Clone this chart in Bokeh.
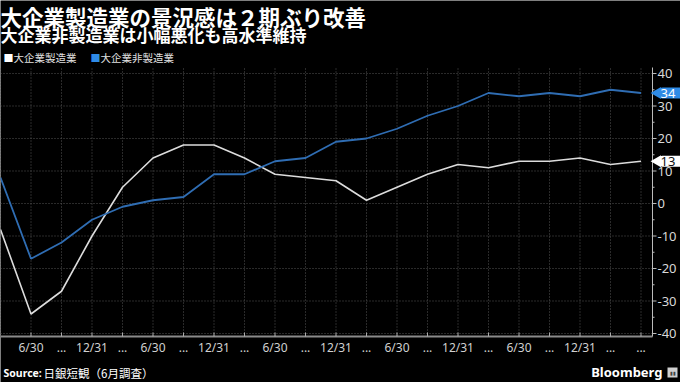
import math
from bokeh.plotting import figure
from bokeh.models import Range1d, Label
from bokeh.embed import file_html
from bokeh.resources import INLINE

# ---- data (quarterly Tankan DI, Mar 2020 - Jun 2025) ----
quarters = list(range(22))
mfg = [-8, -34, -27, -10, 5, 14, 18, 18, 14, 9, 8, 7, 1, 5, 9, 12, 11, 13, 13, 14, 12, 13]
nonmfg = [8, -17, -12, -5, -1, 1, 2, 9, 9, 13, 14, 19, 20, 23, 27, 30, 34, 33, 34, 33, 35, 34]
x_label_ticks = list(range(1, 22))
x_labels = ["6/30", "...", "12/31", "...", "6/30", "...", "12/31", "...", "6/30", "...",
            "12/31", "...", "6/30", "...", "12/31", "...", "6/30", "...", "12/31", "...", "..."]
y_ticks = [-40, -30, -20, -10, 0, 10, 20, 30, 40]
y_minor = [-35, -25, -15, -5, 5, 15, 25, 35]

title = "大企業製造業の景況感は２期ぶり改善"
subtitle = "大企業非製造業は小幅悪化も高水準維持"
series_names = ["大企業製造業", "大企業非製造業"]
source = "日銀短観（6月調査）"

WHITE = "#dcdcdc"
BLUE = "#2f6db3"
BLUE_TAG = "#2f8be6"
GRID = "#555555"
FONT = "Noto Sans CJK JP"

# ---- geometry (pixels) ----
W, H = 680, 382
PX_PER_X = 30.5          # pixels per quarter
PX_PER_Y = 3.25          # pixels per DI point
Y40_PX = 73              # canvas y of +40
PLOT_RIGHT_PX, PLOT_TOP_PX, PLOT_BOTTOM_PX = 652, 67, 336

x_end = W / PX_PER_X
y_top = 40 + Y40_PX / PX_PER_Y
y_bot = y_top - H / PX_PER_Y
xr = PLOT_RIGHT_PX / PX_PER_X                 # plot area right edge (data)
yt = y_top - PLOT_TOP_PX / PX_PER_Y           # plot area top (data)
yb = y_top - PLOT_BOTTOM_PX / PX_PER_Y        # plot area bottom (data)

p = figure(width=W, height=H, output_backend="svg", toolbar_location=None,
           x_range=Range1d(0, x_end), y_range=Range1d(y_bot, y_top),
           x_axis_location=None, y_axis_location=None, min_border=0)
p.background_fill_color = "black"
p.border_fill_color = "black"
p.outline_line_color = None
p.grid.visible = False

# ---- grid ----
p.segment(x0=quarters, y0=[yb] * len(quarters), x1=quarters, y1=[yt] * len(quarters),
          line_color=GRID, line_dash="1 2", line_width=1)
p.segment(x0=[0] * len(y_ticks), y0=y_ticks, x1=[xr] * len(y_ticks), y1=y_ticks,
          line_color=GRID, line_dash="1 2", line_width=1)

# ---- series ----
p.line(quarters, mfg, line_color=WHITE, line_width=1.6)
p.line(quarters, nonmfg, line_color=BLUE, line_width=1.8)

# ---- x axis ----
p.segment(x0=[0], y0=[yb], x1=[xr], y1=[yb], line_color="#8a8a8a", line_width=2)
p.ray(x=x_label_ticks, y=[yb] * len(x_label_ticks), length=4, length_units="screen",
      angle=math.pi / 2, line_color="#aaaaaa", line_width=1)
p.text(x=x_label_ticks, y=[yb] * len(x_label_ticks), text=x_labels, y_offset=11,
       text_align="center", text_baseline="middle", text_color="#d0d0d0",
       text_font_size="12px", text_font={"value": "Noto Sans"})

# ---- y axis (right) ----
p.segment(x0=[xr], y0=[yb], x1=[xr], y1=[yt], line_color="#bbbbbb", line_width=1)
p.ray(x=[xr] * len(y_ticks), y=y_ticks, length=4, length_units="screen", angle=0,
      line_color="#bbbbbb", line_width=1)
p.ray(x=[xr] * len(y_minor), y=y_minor, length=2, length_units="screen", angle=0,
      line_color="#bbbbbb", line_width=1)
p.text(x=[xr] * len(y_ticks), y=y_ticks, text=[str(v) for v in y_ticks], x_offset=5,
       text_align="left", text_baseline="middle", text_color="#d8d8d8",
       text_font_size="13px", text_font={"value": "Noto Sans"})


def add_text(txt, cx, cy, size, color="white", bold=False, font=FONT, align="left"):
    p.add_layout(Label(x=cx, y=H - cy, x_units="screen", y_units="screen",
                       text=txt, text_font=font, text_font_size=size, text_color=color,
                       text_font_style="bold" if bold else "normal",
                       text_baseline="middle", text_align=align))


# ---- titles ----
add_text(title, 0, 16, "21.5px", bold=True)
add_text(subtitle, 0, 34, "17px", bold=True)

# ---- legend ----
add_text("■", 3, 57, "10px", color="white")
add_text(series_names[0], 13, 57, "10.5px", color="#e0e0e0")
add_text("■", 90, 57, "10px", color=BLUE_TAG)
add_text(series_names[1], 100, 57, "10.5px", color="#e0e0e0")

# ---- footer ----
add_text("Source:", 3, 372, "10.5px", bold=True, font="Noto Sans")
add_text(source, 43, 372, "11.5px", font=FONT)
add_text("Bloomberg", 662, 371, "13px", bold=True, font="Noto Sans", align="right")
p.add_layout(Label(x=667, y=H - 377, x_units="screen", y_units="screen",
                   text="▮▮", text_font_size="5px", text_color="#444444",
                   background_fill_color="#cfcfcf", padding=2))

# ---- last-value tags ----
tag_x = (PLOT_RIGHT_PX + 5) / PX_PER_X
p.scatter(x=[tag_x, tag_x], y=[nonmfg[-1], mfg[-1]], marker="triangle", size=12,
          angle=math.pi / 2, fill_color=[BLUE_TAG, "white"], line_color=None)
p.add_layout(Label(x=659, y=nonmfg[-1], x_units="screen", y_units="data",
                   text=str(nonmfg[-1]), text_font="Noto Sans", text_font_size="13px",
                   text_color="white", text_baseline="middle",
                   background_fill_color=BLUE_TAG, padding=(1, 10, 1, 1), border_radius=3))
p.add_layout(Label(x=659, y=mfg[-1], x_units="screen", y_units="data",
                   text=str(mfg[-1]), text_font="Noto Sans", text_font_size="13px",
                   text_color="#111111", text_baseline="middle",
                   background_fill_color="white", padding=(1, 10, 1, 1), border_radius=3))

open("out.html", "w").write(file_html(p, INLINE))
